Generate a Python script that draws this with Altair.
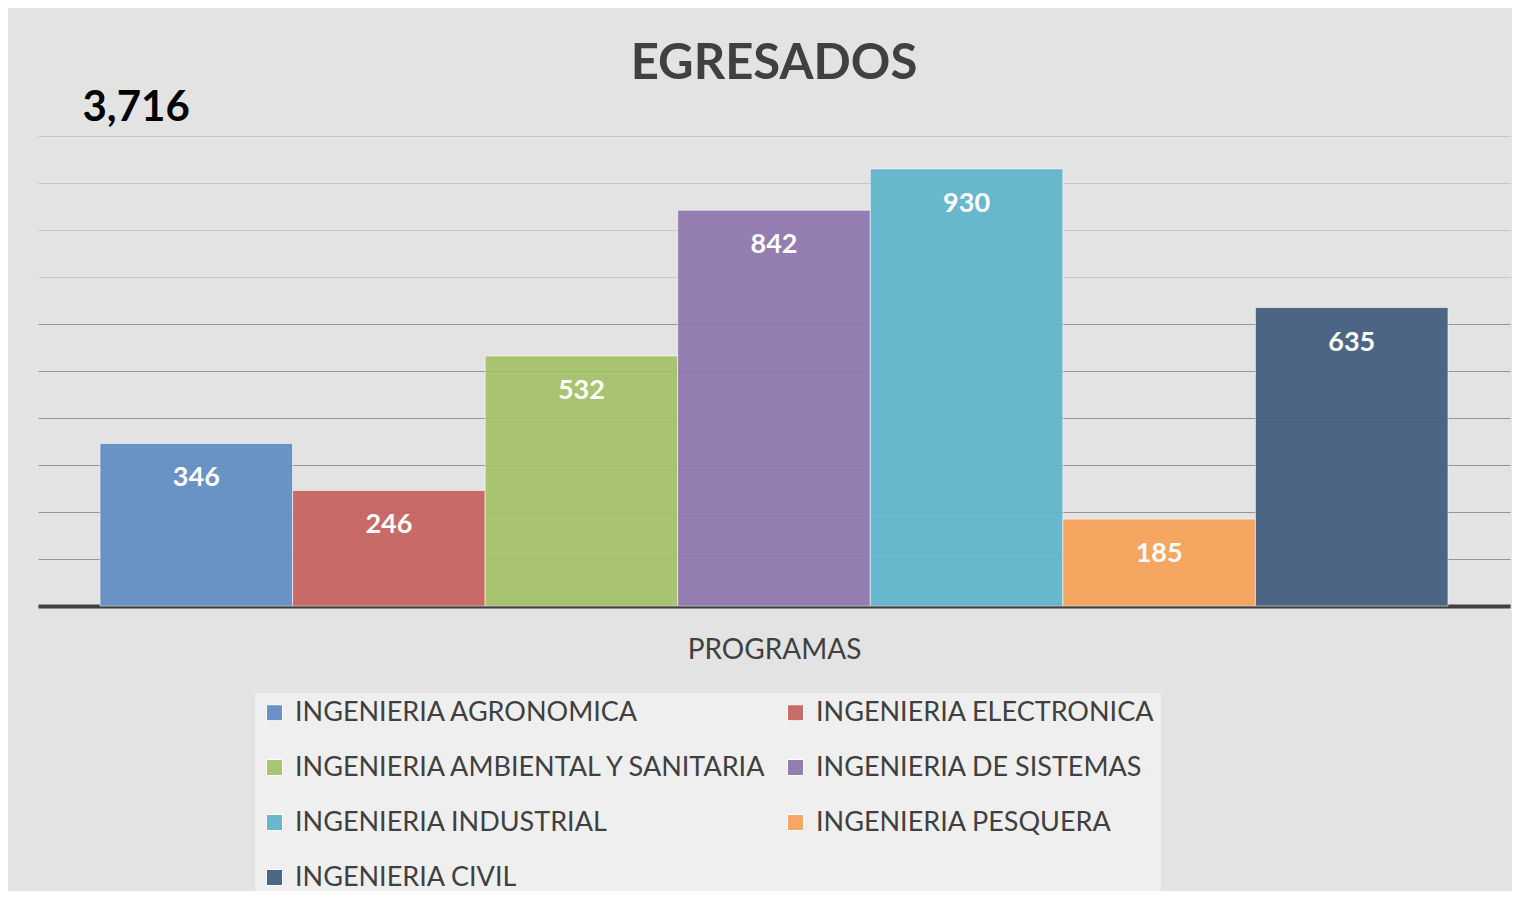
import altair as alt
import pandas as pd

programs = [
    "INGENIERIA AGRONOMICA",
    "INGENIERIA ELECTRONICA",
    "INGENIERIA AMBIENTAL Y SANITARIA",
    "INGENIERIA DE SISTEMAS",
    "INGENIERIA INDUSTRIAL",
    "INGENIERIA PESQUERA",
    "INGENIERIA CIVIL",
]
egresados = [346, 246, 532, 842, 930, 185, 635]
colors = ["#638ec4", "#c76461", "#a6c36b", "#9078ae", "#61b5cc", "#f6a45c", "#445f81"]
grid_values = list(range(0, 1001, 100))

df = pd.DataFrame({"programa": programs, "egresados": egresados})
total = sum(egresados)

FONT = "Lato"
TXT = "#404040"

x_enc = alt.X(
    "programa:N",
    sort=programs,
    scale=alt.Scale(paddingInner=0, paddingOuter=0.322),
    axis=alt.Axis(
        labels=False, ticks=False, domain=True, domainColor=TXT, domainWidth=4,
        title="PROGRAMAS", titleFont=FONT, titleFontSize=28, titleFontWeight="normal",
        titleColor=TXT, titleBaseline="alphabetic", titleY=52,
    ),
)
y_enc = alt.Y(
    "egresados:Q",
    scale=alt.Scale(domain=[0, 1000], nice=False),
    axis=alt.Axis(
        values=grid_values, labels=False, ticks=False, domain=False, grid=True,
        gridColor={"condition": {"test": "datum.value >= 700", "value": "#c6c6c6"}, "value": "#959595"},
        gridWidth=1,
        title=f"{total:,}", titleAngle=0, titleX=44, titleY=-16, titleAlign="left",
        titleBaseline="alphabetic", titleFont=FONT, titleFontSize=42, titleFontWeight="bold",
        titleColor="#000000",
    ),
)

bars = alt.Chart(df).mark_bar(opacity=0.95, stroke="#ffffff", strokeWidth=1, strokeOpacity=0.6).encode(
    x=x_enc,
    y=y_enc,
    color=alt.Color(
        "programa:N",
        sort=programs,
        scale=alt.Scale(domain=programs, range=colors),
        legend=alt.Legend(
            title=None, orient="none", legendX=217, legendY=557, columns=2, direction="horizontal",
            symbolType="square", symbolSize=256, symbolStrokeWidth=1, symbolStrokeColor="#ffffff",
            labelFont=FONT, labelFontSize=27, labelColor=TXT, labelLimit=800, labelOffset=7,
            rowPadding=27, columnPadding=12, padding=6, fillColor="#efefef",
        ),
    ),
)

labels = alt.Chart(df).mark_text(
    baseline="middle", dy=35, color="#ffffff", font=FONT, fontSize=27, fontWeight="bold"
).encode(
    x=alt.X("programa:N", sort=programs),
    y=alt.Y("egresados:Q"),
    text=alt.Text("egresados:Q", format=","),
)

chart = alt.layer(bars, labels).properties(
    width=1472,
    height=470,
    autosize=alt.AutoSizeParams(type="none"),
    padding={"left": 30, "top": 128, "right": 2, "bottom": 285},
    background="#e3e3e3",
    title=alt.TitleParams(
        text="EGRESADOS", font=FONT, fontSize=49, fontWeight="bold", color=TXT,
        anchor="middle", frame="group", baseline="alphabetic", offset=-42,
    ),
).configure_view(stroke=None)

chart.save("out.html", embed_options={"renderer": "svg", "actions": False})
